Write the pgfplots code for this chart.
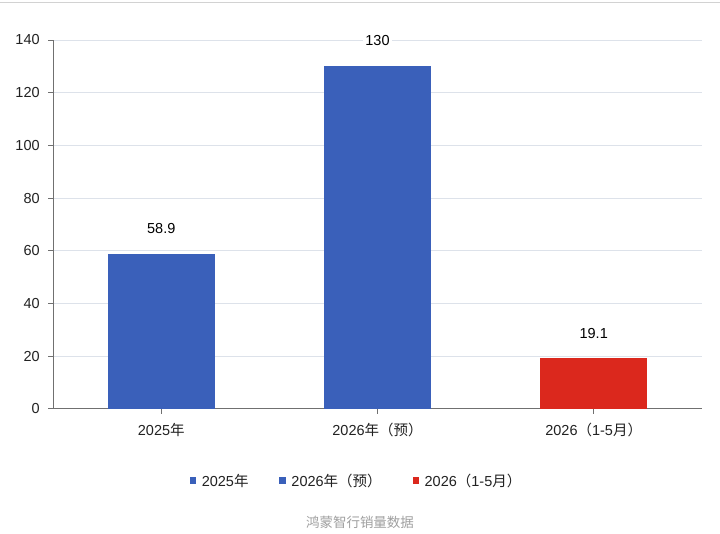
\documentclass[border=0pt]{standalone}
\usepackage{fontspec}
\setmainfont{Liberation Sans}
\newfontfamily\cjk{Noto Sans CJK SC}
\usepackage{pgfplots}
\pgfplotsset{compat=1.18}
\definecolor{barblue}{HTML}{3A60BA}
\definecolor{barred}{HTML}{DB281D}
\definecolor{gridc}{HTML}{DDE2EA}
\definecolor{axc}{HTML}{707070}
\definecolor{txt}{HTML}{222222}
\begin{document}
\begin{tikzpicture}[x=1bp,y=1bp]
\fill[white] (0,0) rectangle (720,534);
\draw[gray!35] (0,532) -- (720,532);
\begin{axis}[
  at={(53bp,125bp)}, anchor=south west,
  scale only axis, width=649bp, height=369bp,
  xmin=-0.5, xmax=2.5, ymin=0, ymax=140,
  ytick={0,20,...,140},
  xtick={0,1,2},
  xticklabels={2025{\cjk 年},2026{\cjk 年（预）},2026{\cjk （}1-5{\cjk 月）}},
  axis x line*=bottom, axis y line*=left,
  axis line style={axc, line width=0.8bp},
  tick style={axc, line width=0.8bp},
  tick align=outside, major tick length=5bp,
  ymajorgrids, grid style={gridc, line width=0.8bp},
  /pgf/number format/assume math mode=true,
  tick label style={font=\fontsize{14.5bp}{17bp}\selectfont, text=txt},
  yticklabel style={xshift=-5bp},
  xticklabel style={yshift=-6bp},
  ybar, bar width=107bp, bar shift=0pt,
  nodes near coords,
  every node near coord/.append style={font=\fontsize{14.5bp}{17bp}\selectfont, text=black, fill=white, inner sep=2bp, yshift=18bp},
  legend columns=3,
  legend style={at={(0.4677,-0.195)}, anchor=center, draw=none, fill=none,
    font=\fontsize{14.5bp}{17bp}\selectfont, text=txt,
    /tikz/every even column/.append style={column sep=29bp}},
  legend image code/.code={\fill[#1] (0bp,-3bp) rectangle (6.5bp,3.5bp); \path (10bp,0bp);},
  clip=false,
]
\addplot[fill=barblue, draw=none] coordinates {(0,58.9)};
\addlegendentry{2025{\cjk 年}}
\addplot[fill=barblue, draw=none] coordinates {(1,130)};
\addlegendentry{2026{\cjk 年（预）}}
\addplot[fill=barred, draw=none] coordinates {(2,19.1)};
\addlegendentry{2026{\cjk （}1-5{\cjk 月）}}
\end{axis}
\node[text=gray!75, font=\cjk\fontsize{13.5bp}{15bp}\selectfont] at (360,11) {鸿蒙智行销量数据};
\end{tikzpicture}
\end{document}
